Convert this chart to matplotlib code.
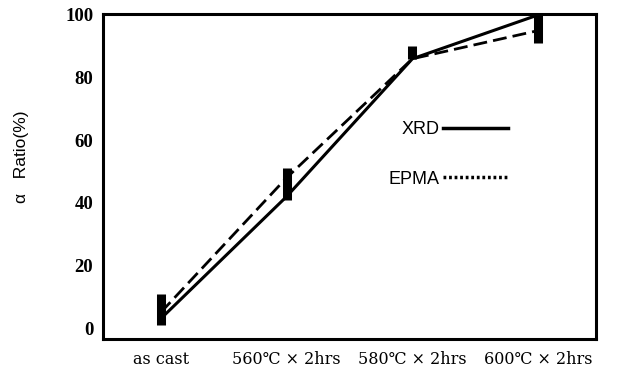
import matplotlib
matplotlib.use("Agg")
import matplotlib.pyplot as plt
from matplotlib.lines import Line2D

# data
conditions = ["as cast", "560\u2103 \u00d7 2hrs", "580\u2103 \u00d7 2hrs", "600\u2103 \u00d7 2hrs"]
xrd = [3, 42, 86, 100]
epma = [5, 48, 86, 95]
range_low = [1, 41, 86, 91]
range_high = [11, 51, 90, 100]
y_ticks = [0, 20, 40, 60, 80, 100]

serif = ["Liberation Serif", "DejaVu Serif"]
sans = ["Liberation Sans", "DejaVu Sans"]

fig = plt.figure(figsize=(6.25, 3.71), dpi=100)
ax = fig.add_axes([0.1648, 0.0863, 0.7888, 0.876])

x = list(range(len(conditions)))
ax.vlines(x, range_low, range_high, colors="black", linewidth=6.5, zorder=3)
ax.plot(x, xrd, color="black", linewidth=2.2, solid_capstyle="butt", zorder=4)
ax.plot(x, epma, color="black", linewidth=2.0, dashes=(5, 2.2), zorder=4)

ax.set_xlim(-0.46, 3.46)
ax.set_ylim(-3.5, 100.3)
ax.set_xticks(x)
ax.set_xticklabels(conditions, family="DejaVu Serif", fontsize=11.5)
ax.set_yticks(y_ticks)
ax.set_yticklabels([str(v) for v in y_ticks], family=serif, fontsize=13.5, fontweight="bold")
ax.tick_params(axis="both", length=0)
ax.tick_params(axis="x", pad=9)
ax.tick_params(axis="y", pad=7)
for spine in ax.spines.values():
    spine.set_linewidth(2.2)

fig.text(0.035, 0.577, "\u03b1   Ratio(%)", rotation=90, ha="center", va="center",
         family=sans, fontsize=12.5)

handles = [Line2D([], [], color="black", linewidth=2.5),
           Line2D([], [], color="black", linewidth=2.5, dashes=(0.8, 0.8))]
ax.legend(handles, ["XRD", "EPMA"], loc="upper left", bbox_to_anchor=(0.546, 0.72),
          markerfirst=False, frameon=False, handlelength=3.6, handletextpad=0.2,
          labelspacing=1.8, prop={"family": sans, "size": 13})

fig.savefig("out.png", dpi=100)
